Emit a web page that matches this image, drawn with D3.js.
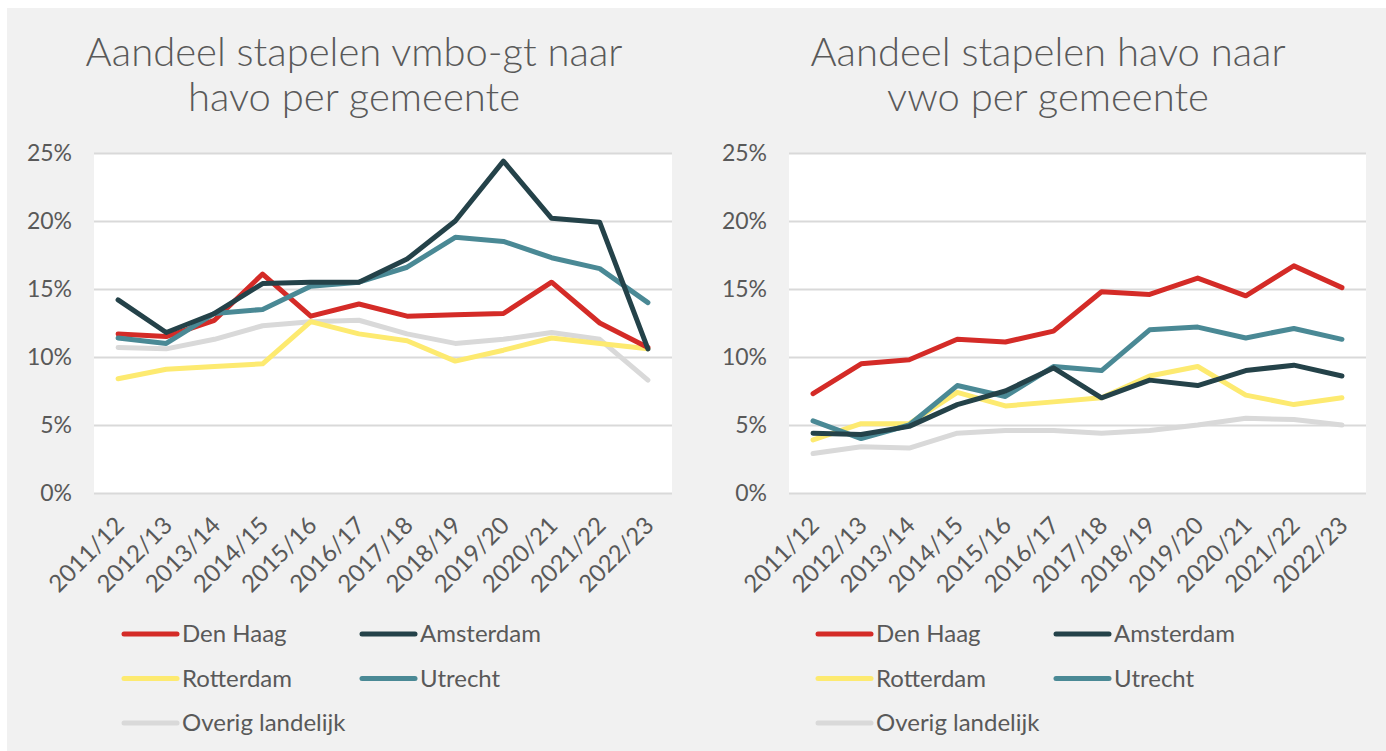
<!DOCTYPE html>
<html>
<head>
<meta charset="utf-8">
<script src="https://cdn.jsdelivr.net/npm/d3@7/dist/d3.min.js"></script>
<style>
  html, body { margin: 0; padding: 0; background: #ffffff; }
  svg { display: block; }
  text { font-family: Lato, "Open Sans", sans-serif; fill: #595959; }
</style>
</head>
<body>
<svg id="chart" width="1386" height="751"></svg>
<script>
// ---- Data ----
const years = ["2011/12","2012/13","2013/14","2014/15","2015/16","2016/17","2017/18","2018/19","2019/20","2020/21","2021/22","2022/23"];
const yTicks = [0, 5, 10, 15, 20, 25];
const seriesNames = ["Den Haag", "Amsterdam", "Rotterdam", "Utrecht", "Overig landelijk"];
const seriesColors = ["#d42b27", "#244249", "#fdea70", "#4a8995", "#d9d9d9"];

const titleLeft = ["Aandeel stapelen vmbo-gt naar", "havo per gemeente"];
const titleRight = ["Aandeel stapelen havo naar", "vwo per gemeente"];

// vmbo-gt -> havo (%)
const leftDenHaag   = [11.7, 11.5, 12.7, 16.1, 13.0, 13.9, 13.0, 13.1, 13.2, 15.5, 12.5, 10.7];
const leftAmsterdam = [14.2, 11.8, 13.2, 15.4, 15.5, 15.5, 17.2, 20.0, 24.4, 20.2, 19.9, 10.6];
const leftRotterdam = [8.4, 9.1, 9.3, 9.5, 12.6, 11.7, 11.2, 9.7, 10.5, 11.4, 11.0, 10.6];
const leftUtrecht   = [11.4, 11.0, 13.2, 13.5, 15.2, 15.5, 16.6, 18.8, 18.5, 17.3, 16.5, 14.0];
const leftOverig    = [10.7, 10.6, 11.3, 12.3, 12.6, 12.7, 11.7, 11.0, 11.3, 11.8, 11.3, 8.3];

// havo -> vwo (%)
const rightDenHaag   = [7.3, 9.5, 9.8, 11.3, 11.1, 11.9, 14.8, 14.6, 15.8, 14.5, 16.7, 15.1];
const rightAmsterdam = [4.4, 4.3, 4.9, 6.5, 7.5, 9.2, 7.0, 8.3, 7.9, 9.0, 9.4, 8.6];
const rightRotterdam = [3.9, 5.1, 5.1, 7.4, 6.4, 6.7, 7.0, 8.6, 9.3, 7.2, 6.5, 7.0];
const rightUtrecht   = [5.3, 4.0, 5.0, 7.9, 7.1, 9.3, 9.0, 12.0, 12.2, 11.4, 12.1, 11.3];
const rightOverig    = [2.9, 3.4, 3.3, 4.4, 4.6, 4.6, 4.4, 4.6, 5.0, 5.5, 5.4, 5.0];

const leftSeries  = [leftDenHaag, leftAmsterdam, leftRotterdam, leftUtrecht, leftOverig];
const rightSeries = [rightDenHaag, rightAmsterdam, rightRotterdam, rightUtrecht, rightOverig];

// ---- Drawing ----
const svg = d3.select("#chart");
svg.append("rect").attr("x", 7).attr("y", 8).attr("width", 1379).attr("height", 743).attr("fill", "#f1f1f1");

// draw order: Overig first (back), then others
const drawOrder = [4, 2, 0, 3, 1];

function drawPanel(cfg) {
  const g = svg.append("g");
  const x = d3.scalePoint().domain(years).range([cfg.left, cfg.right]).padding(0.5);
  const y = d3.scaleLinear().domain([0, 25]).range([cfg.bottom, cfg.top]);

  // title
  cfg.title.forEach((line, i) => {
    g.append("text").attr("x", cfg.titleX).attr("y", 66 + i * 45)
      .attr("text-anchor", "middle").style("font-size", "40px").style("font-weight", 300)
      .text(line);
  });

  // plot background
  g.append("rect").attr("x", cfg.left).attr("y", cfg.top)
    .attr("width", cfg.right - cfg.left).attr("height", cfg.bottom - cfg.top).attr("fill", "#ffffff");

  // grid
  const yAxis = d3.axisLeft(y).tickValues(yTicks).tickFormat(d => d + "%")
    .tickSize(-(cfg.right - cfg.left)).tickPadding(22);
  const ya = g.append("g").attr("transform", `translate(${cfg.left},0)`).call(yAxis);
  ya.select(".domain").remove();
  ya.selectAll(".tick line").attr("stroke", "#d9d9d9").attr("stroke-width", 2);
  ya.selectAll(".tick text").style("font-size", "23px").style("font-family", "Lato, sans-serif").attr("fill", "#595959");

  // x axis labels
  const xAxis = d3.axisBottom(x).tickSize(0).tickPadding(0);
  const xa = g.append("g").attr("transform", `translate(0,${cfg.bottom})`).call(xAxis);
  xa.select(".domain").remove();
  xa.selectAll(".tick text")
    .style("font-size", "24px").style("font-family", "Lato, sans-serif").attr("fill", "#595959")
    .attr("text-anchor", "end").attr("dy", null).attr("y", 0)
    .attr("transform", "translate(7,34) rotate(-45)");

  // lines
  const line = d3.line().x((d, i) => x(years[i])).y(d => y(d));
  drawOrder.forEach(si => {
    g.append("path").datum(cfg.series[si]).attr("d", line)
      .attr("fill", "none").attr("stroke", seriesColors[si]).attr("stroke-width", 5)
      .attr("stroke-linejoin", "round").attr("stroke-linecap", "round");
  });

  // legend
  const legPos = [[0, 0], [1, 0], [0, 1], [1, 1], [0, 2]];
  seriesNames.forEach((name, i) => {
    const lx = cfg.legendX + legPos[i][0] * 238;
    const ly = 634 + legPos[i][1] * 44.5;
    g.append("line").attr("x1", lx).attr("x2", lx + 53).attr("y1", ly).attr("y2", ly)
      .attr("stroke", seriesColors[i]).attr("stroke-width", 5).attr("stroke-linecap", "round");
    g.append("text").attr("x", lx + 58).attr("y", ly).attr("dy", "0.35em")
      .style("font-size", "24px").text(name);
  });
}

drawPanel({ left: 94, right: 672, top: 153, bottom: 493, titleX: 354, title: titleLeft, series: leftSeries, legendX: 124 });
drawPanel({ left: 789, right: 1366, top: 153, bottom: 493, titleX: 1048, title: titleRight, series: rightSeries, legendX: 818 });
</script>
</body>
</html>
